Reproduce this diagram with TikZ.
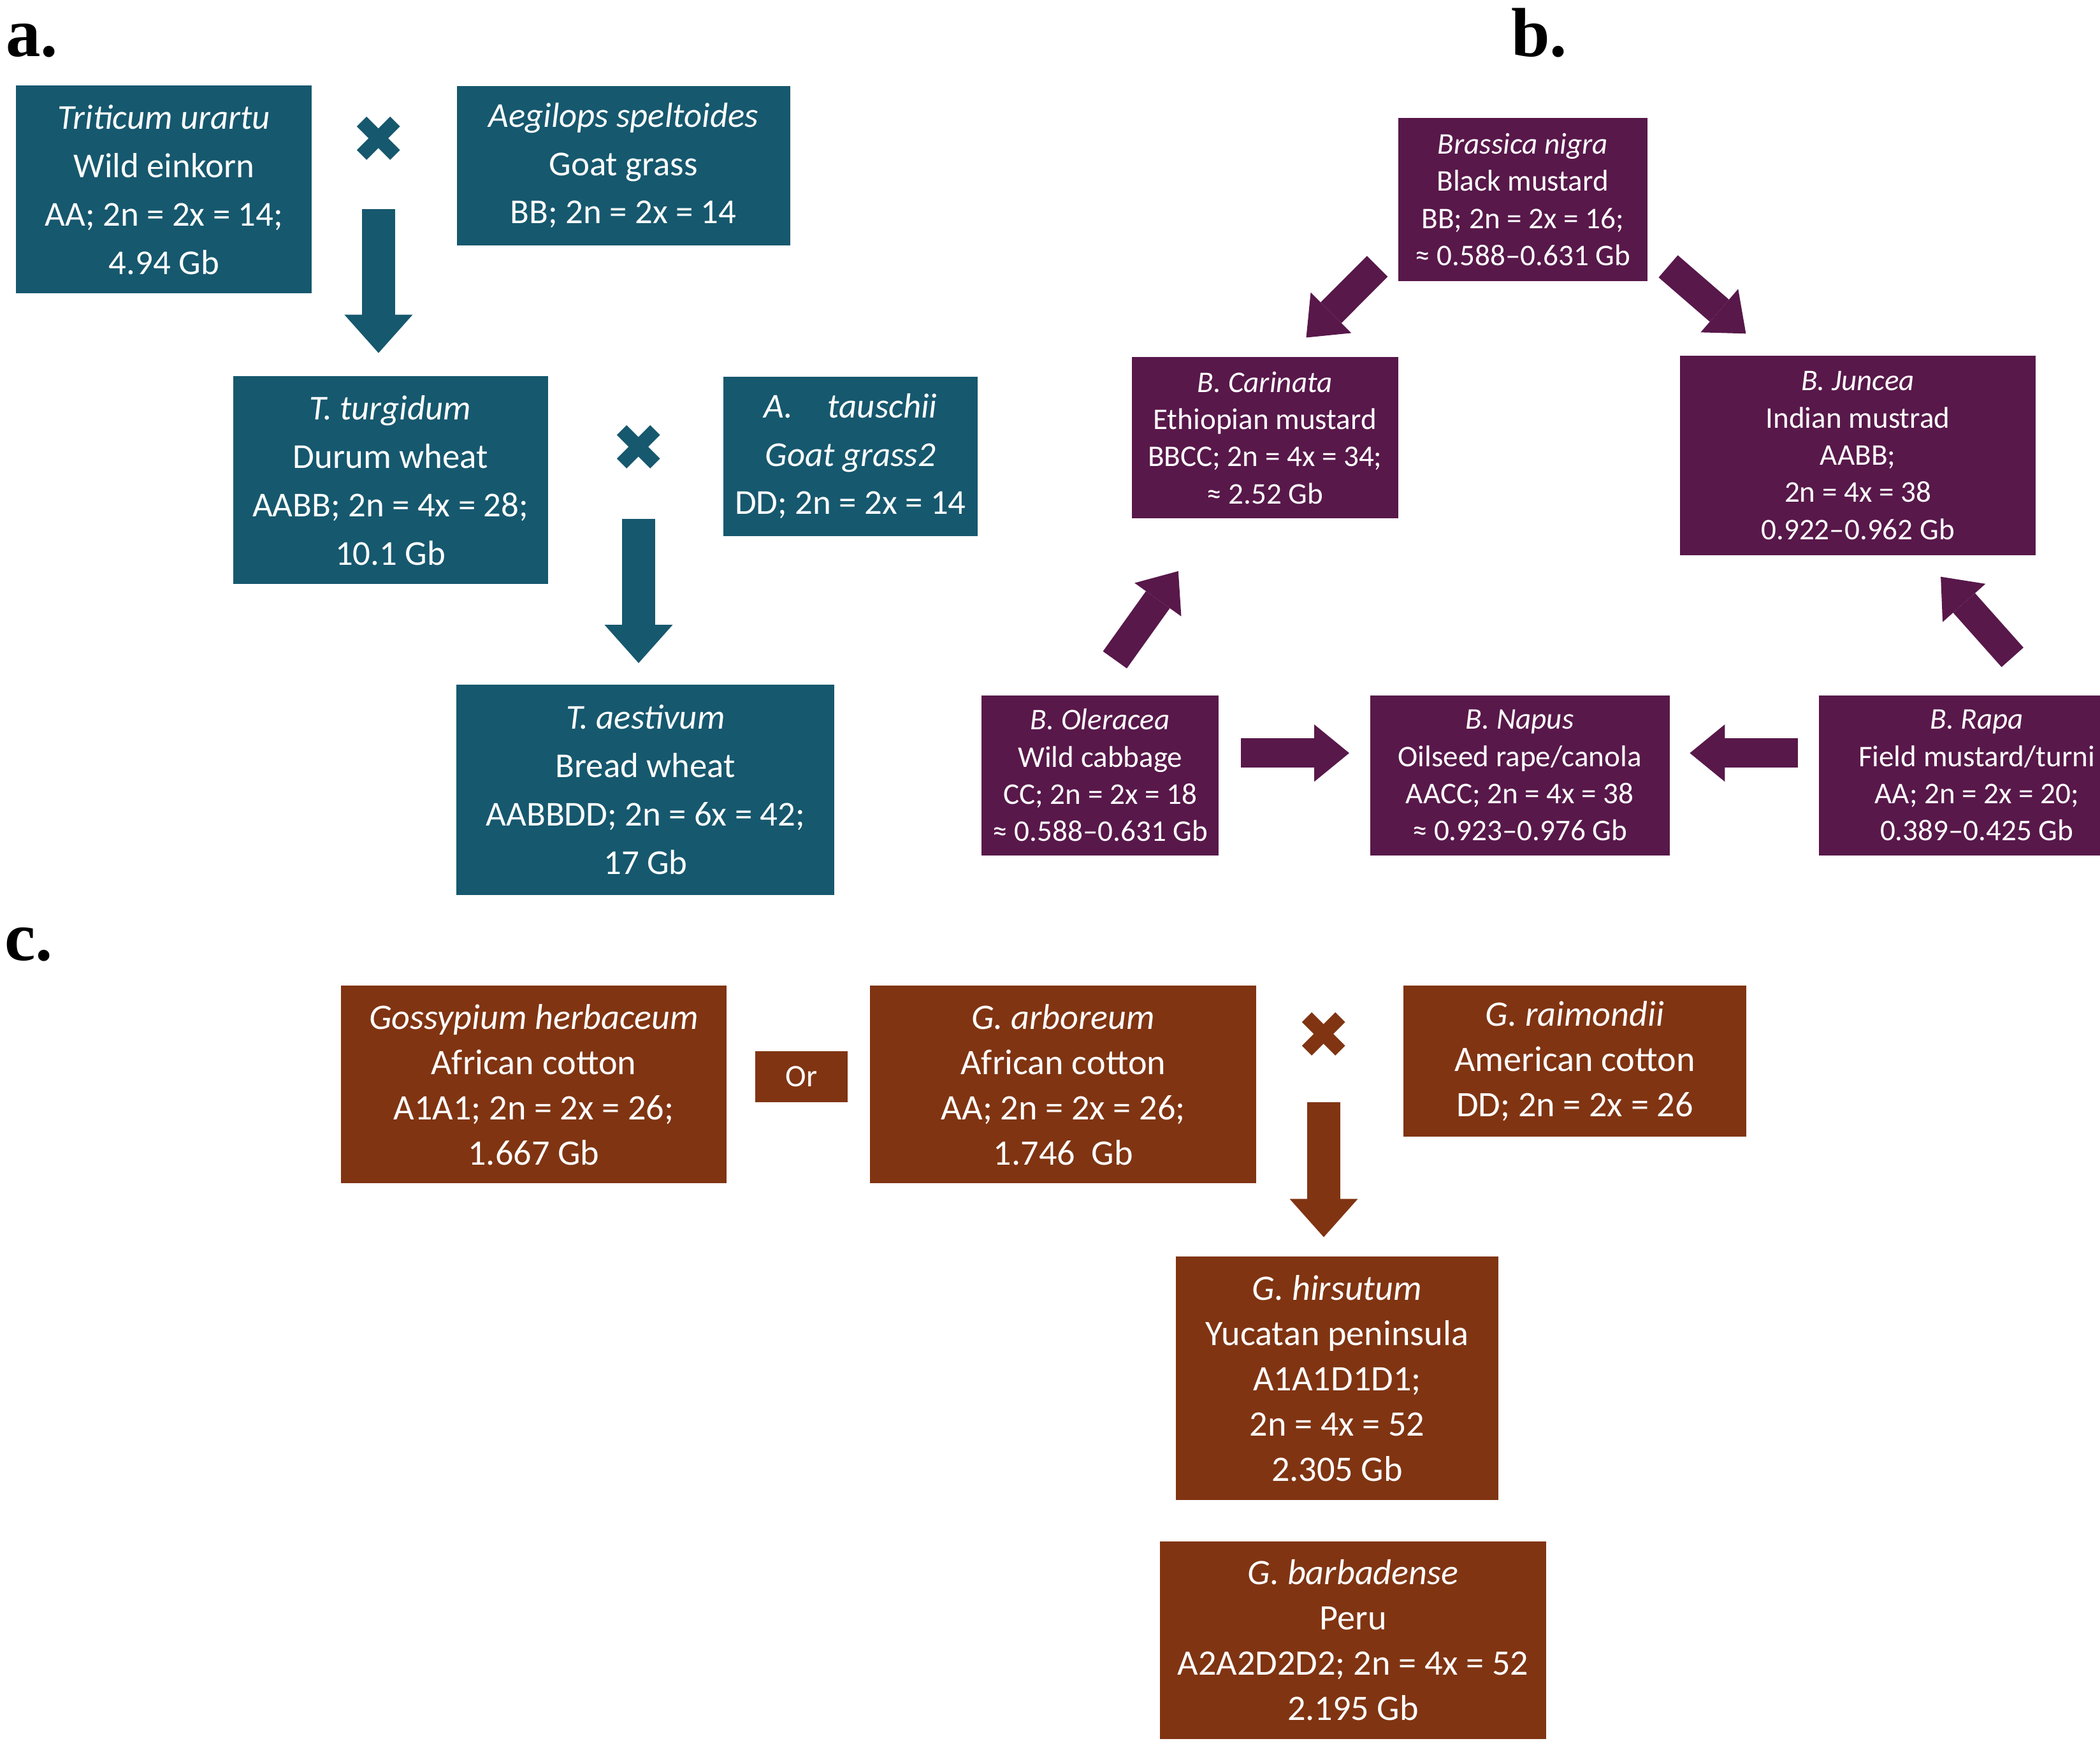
\documentclass[tikz,border=0pt]{standalone}
\usepackage{fontspec}
\setmainfont{Carlito}
\newfontfamily\headfont{Liberation Serif}
\newfontfamily\symfont{DejaVu Sans}
\usetikzlibrary{positioning, arrows.meta, calc}
\definecolor{wheat}{RGB}{22,88,110}
\definecolor{mustard}{RGB}{88,24,74}
\definecolor{cotton}{RGB}{128,52,18}

\begin{document}
\begin{tikzpicture}[
    every node/.style={text=white, align=center, inner sep=0pt},
    box/.style 2 args={minimum width=#1cm, minimum height=#2cm},
    fa/.style={font=\fontsize{15.6}{21.6}\selectfont},
    fb/.style={font=\fontsize{13.4}{16.6}\selectfont},
    fc/.style={font=\fontsize{16}{20.2}\selectfont},
    cross/.style={font=\symfont\fontsize{29}{29}\selectfont},
    head/.style={anchor=base west, text=black, font=\headfont\fontsize{31}{31}\selectfont\bfseries},
    arrow/.style={line width=0.52cm, -{Triangle[width=1.07cm, length=0.6cm, line width=0pt]}},
    barrow/.style={line width=0.46cm, -{Triangle[width=0.9cm, length=0.55cm, line width=0pt]}}
  ]
  \useasboundingbox[fill=white] (0,0) rectangle (32.95,-27.53);

  % Wheat (a)
  \node[head] (la) at (0.084,-0.883) {a.};
  \node[box={4.64}{3.26}, fill=wheat, fa] (tu) at (2.574,-2.974)
    {\textit{Triticum urartu}\\Wild einkorn\\AA; 2n = 2x = 14;\\4.94 Gb};
  \node[box={5.23}{2.50}, fill=wheat, fa] (as) at (9.782,-2.595)
    {\textit{Aegilops speltoides}\\Goat grass\\BB; 2n = 2x = 14};
  \node[cross, text=wheat] (xa) at (5.939,-2.192) {✖};
  \node[box={4.94}{3.26}, fill=wheat, fa] (tt) at (6.126,-7.534)
    {\textit{T. turgidum}\\Durum wheat\\AABB; 2n = 4x = 28;\\10.1 Gb};
  \node[box={3.99}{2.50}, fill=wheat, fa] (at) at (13.344,-7.155)
    {\textit{A.\quad tauschii}\\\textit{Goat grass2}\\DD; 2n = 2x = 14};
  \node[cross, text=wheat] (xb) at (10.02,-7.031) {✖};
  \node[box={5.93}{3.30}, fill=wheat, fa] (ta) at (10.129,-12.388)
    {\textit{T. aestivum}\\Bread wheat\\AABBDD; 2n = 6x = 42;\\17 Gb};
  \draw[arrow, wheat] ([yshift=-1.09cm]xa.center) -- ([yshift=0.36cm]xa.center |- tt.north);
  \draw[arrow, wheat] ([yshift=-1.11cm]xb.center) -- ([yshift=0.33cm]xb.center |- ta.north);

  % Mustard (b)
  \node[head] (lb) at (23.704,-0.883) {b.};
  \node[box={3.91}{2.56}, fill=mustard, fb] (bn) at (23.893,-3.131)
    {\textit{Brassica nigra}\\Black mustard\\BB; 2n = 2x = 16;\\≈ 0.588–0.631 Gb};
  \node[box={4.18}{2.53}, fill=mustard, fb] (bc) at (19.848,-6.867)
    {\textit{B. Carinata}\\Ethiopian mustard\\BBCC; 2n = 4x = 34;\\≈ 2.52 Gb};
  \node[box={5.58}{3.13}, fill=mustard, fb] (bj) at (29.151,-7.145)
    {\textit{B. Juncea}\\Indian mustrad\\AABB;\\2n = 4x = 38\\0.922–0.962 Gb};
  \node[box={3.72}{2.51}, fill=mustard, fb] (bo) at (17.263,-12.163)
    {\textit{B. Oleracea}\\Wild cabbage\\CC; 2n = 2x = 18\\≈ 0.588–0.631 Gb};
  \node[box={4.70}{2.51}, fill=mustard, fb] (bp) at (23.847,-12.163)
    {\textit{B. Napus}\\Oilseed rape/canola\\AACC; 2n = 4x = 38\\≈ 0.923–0.976 Gb};
  \node[box={4.96}{2.51}, fill=mustard, fb] (br) at (31.017,-12.163)
    {\textit{B. Rapa}\\Field mustard/turni\\AA; 2n = 2x = 20;\\0.389–0.425 Gb};
  \draw[barrow, mustard] ([xshift=-0.32cm, yshift=0.24cm]bn.south west) -- ([xshift=-1.45cm, yshift=0.30cm]bc.north east);
  \draw[barrow, mustard] ([xshift=0.32cm, yshift=0.24cm]bn.south east) -- ([xshift=1.04cm, yshift=0.34cm]bj.north west);
  \draw[barrow, mustard] ([xshift=0.23cm, yshift=0.55cm]bo.north) -- ([xshift=-1.36cm, yshift=-0.82cm]bc.south);
  \draw[barrow, mustard] ([xshift=0.56cm, yshift=0.59cm]br.north) -- ([xshift=1.30cm, yshift=-0.33cm]bj.south);
  \draw[barrow, mustard] ([xshift=0.34cm, yshift=0.35cm]bo.east) -- ([xshift=-0.32cm, yshift=0.35cm]bp.west);
  \draw[barrow, mustard] ([xshift=-0.32cm, yshift=0.35cm]br.west) -- ([xshift=0.31cm, yshift=0.35cm]bp.east);

  % Cotton (c)
  \node[head] (lc) at (0.063,-15.067) {c.};
  \node[box={6.05}{3.10}, fill=cotton, fc] (gh) at (8.374,-17.013)
    {\textit{Gossypium herbaceum}\\African cotton\\A1A1; 2n = 2x = 26;\\1.667 Gb};
  \node[box={1.45}{0.80}, fill=cotton, font=\fontsize{14}{14}\selectfont] (or) at (12.577,-16.885) {Or};
  \node[box={6.06}{3.10}, fill=cotton, fc] (ga) at (16.683,-17.013)
    {\textit{G. arboreum}\\African cotton\\AA; 2n = 2x = 26;\\1.746\ \ Gb};
  \node[cross, text=cotton] (xc) at (20.770,-16.240) {✖};
  \node[box={5.38}{2.37}, fill=cotton, fc] (gr) at (24.709,-16.645)
    {\textit{G. raimondii}\\American cotton\\DD; 2n = 2x = 26};
  \node[box={5.06}{3.82}, fill=cotton, fc] (gs) at (20.980,-21.623)
    {\textit{G. hirsutum}\\Yucatan peninsula\\A1A1D1D1;\\2n = 4x = 52\\2.305 Gb};
  \node[box={6.06}{3.10}, fill=cotton, fc] (gb) at (21.230,-25.725)
    {\textit{G. barbadense}\\Peru\\A2A2D2D2; 2n = 4x = 52\\2.195 Gb};
  \draw[arrow, cotton] ([yshift=-1.05cm]xc.center) -- ([yshift=0.30cm]xc.center |- gs.north);
\end{tikzpicture}
\end{document}
